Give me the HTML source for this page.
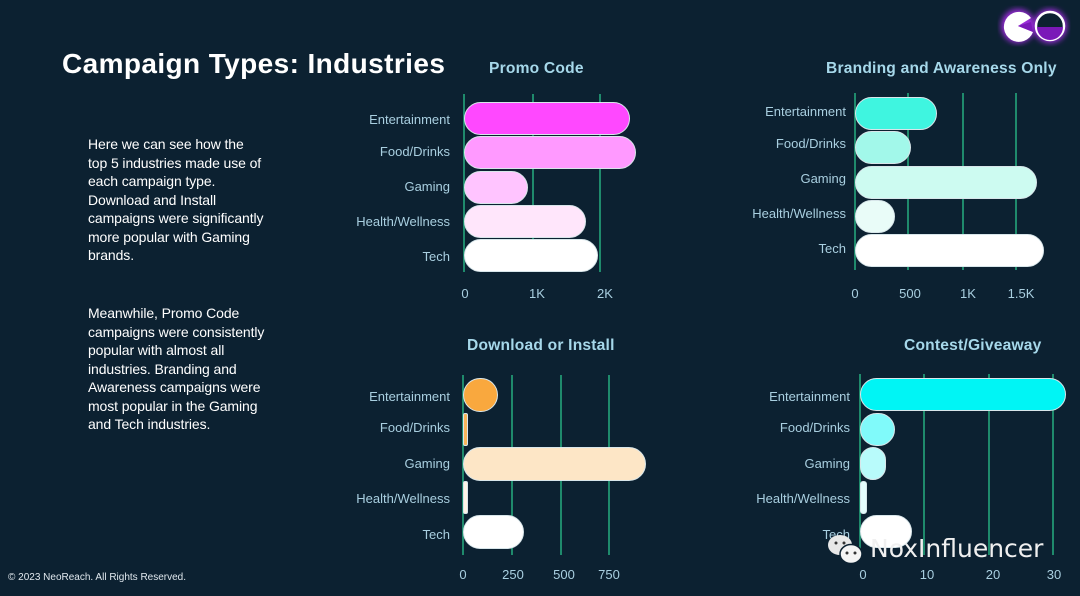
<!DOCTYPE html>
<html><head><meta charset="utf-8"><style>
*{margin:0;padding:0;box-sizing:border-box}
body{width:1080px;height:596px;background:#0c2131;position:relative;overflow:hidden;font-family:"Liberation Sans",sans-serif}
.a{position:absolute}
.t{position:absolute;font-weight:bold;color:#a6d8ea;font-size:15.6px;white-space:nowrap;letter-spacing:0.2px}
.l{position:absolute;color:#a9cfe0;font-size:13px;text-align:right;width:140px;white-space:nowrap}
.g{position:absolute;width:2px;background:#1f8a6c}
.b{position:absolute;border-radius:17px;border:1px solid #d8e6ea}
.k{position:absolute;color:#a9cfe0;font-size:13px;transform:translateX(-50%)}
p{position:absolute;left:88px;color:#fff;font-size:14px;line-height:18.5px;letter-spacing:-0.1px}
</style></head><body>
<div class="a" style="left:62px;top:48px;color:#fff;font-size:28px;font-weight:bold;letter-spacing:0.4px">Campaign Types: Industries</div>
<p style="top:135px">Here we can see how the<br>top 5 industries made use of<br>each campaign type.<br>Download and Install<br>campaigns were significantly<br>more popular with Gaming<br>brands.</p>
<p style="top:304px">Meanwhile, Promo Code<br>campaigns were consistently<br>popular with almost all<br>industries. Branding and<br>Awareness campaigns were<br>most popular in the Gaming<br>and Tech industries.</p>
<div class="a" style="left:8px;top:572px;color:#e0e8ee;font-size:10px">© 2023 NeoReach. All Rights Reserved.</div>

<!-- logo -->
<svg class="a" style="left:995px;top:2px" width="80" height="48">
<defs><filter id="gl"><feGaussianBlur stdDeviation="3"/></filter></defs>
<circle cx="23" cy="24" r="17" fill="#9a2bd8" filter="url(#gl)"/>
<circle cx="55" cy="24" r="17" fill="#9a2bd8" filter="url(#gl)"/>
<path d="M23 24 L38 30 A15 15 0 1 1 36 16 Z" fill="#fff"/>
<path d="M23 24 L38 30 L36 20 Z" fill="#7a18b8"/>
<circle cx="55" cy="24" r="14" fill="#0c2131" stroke="#fff" stroke-width="2.5"/>
<path d="M42 25 H68 A13 13 0 0 1 42 25 Z" fill="#7a18b8"/>
</svg>

<!-- Promo Code -->
<div class="t" style="left:489px;top:60px">Promo Code</div>
<div class="g" style="left:463px;top:94px;height:178px"></div>
<div class="g" style="left:532px;top:94px;height:178px"></div>
<div class="g" style="left:599px;top:94px;height:178px"></div>
<div class="b" style="left:464px;top:102px;width:166px;height:33px;background:#ff48ff"></div>
<div class="b" style="left:464px;top:136px;width:172px;height:33px;background:#ff99ff"></div>
<div class="b" style="left:464px;top:171px;width:64px;height:33px;background:#ffc4ff"></div>
<div class="b" style="left:464px;top:205px;width:122px;height:33px;background:#ffe6fb"></div>
<div class="b" style="left:464px;top:239px;width:134px;height:33px;background:#fff"></div>
<div class="l" style="left:310px;top:112px">Entertainment</div>
<div class="l" style="left:310px;top:144px">Food/Drinks</div>
<div class="l" style="left:310px;top:179px">Gaming</div>
<div class="l" style="left:310px;top:214px">Health/Wellness</div>
<div class="l" style="left:310px;top:249px">Tech</div>
<div class="k" style="left:465px;top:286px">0</div>
<div class="k" style="left:537px;top:286px">1K</div>
<div class="k" style="left:605px;top:286px">2K</div>

<!-- Branding -->
<div class="t" style="left:826px;top:60px">Branding and Awareness Only</div>
<div class="g" style="left:854px;top:93px;height:177px"></div>
<div class="g" style="left:907px;top:93px;height:177px"></div>
<div class="g" style="left:962px;top:93px;height:177px"></div>
<div class="g" style="left:1015px;top:93px;height:177px"></div>
<div class="b" style="left:855px;top:97px;width:82px;height:33px;background:#3ff5e0"></div>
<div class="b" style="left:855px;top:131px;width:56px;height:33px;background:#a2f8ea"></div>
<div class="b" style="left:855px;top:166px;width:182px;height:33px;background:#cdfbf1"></div>
<div class="b" style="left:855px;top:200px;width:40px;height:33px;background:#e9fcf8"></div>
<div class="b" style="left:855px;top:234px;width:189px;height:33px;background:#fff"></div>
<div class="l" style="left:706px;top:104px">Entertainment</div>
<div class="l" style="left:706px;top:136px">Food/Drinks</div>
<div class="l" style="left:706px;top:171px">Gaming</div>
<div class="l" style="left:706px;top:206px">Health/Wellness</div>
<div class="l" style="left:706px;top:241px">Tech</div>
<div class="k" style="left:855px;top:286px">0</div>
<div class="k" style="left:910px;top:286px">500</div>
<div class="k" style="left:968px;top:286px">1K</div>
<div class="k" style="left:1021px;top:286px">1.5K</div>

<!-- Download -->
<div class="t" style="left:467px;top:337px">Download or Install</div>
<div class="g" style="left:462px;top:375px;height:180px"></div>
<div class="g" style="left:511px;top:375px;height:180px"></div>
<div class="g" style="left:560px;top:375px;height:180px"></div>
<div class="g" style="left:608px;top:375px;height:180px"></div>
<div class="b" style="left:463px;top:378px;width:35px;height:34px;background:#f9a83e"></div>
<div class="b" style="left:463px;top:413px;width:5px;height:33px;background:#f8b45a;border-radius:2px"></div>
<div class="b" style="left:463px;top:447px;width:183px;height:34px;background:#fde6c6"></div>
<div class="b" style="left:463px;top:481px;width:5px;height:33px;background:#fff4e6;border-radius:2px"></div>
<div class="b" style="left:463px;top:515px;width:61px;height:34px;background:#fff"></div>
<div class="l" style="left:310px;top:389px">Entertainment</div>
<div class="l" style="left:310px;top:420px">Food/Drinks</div>
<div class="l" style="left:310px;top:456px">Gaming</div>
<div class="l" style="left:310px;top:491px">Health/Wellness</div>
<div class="l" style="left:310px;top:527px">Tech</div>
<div class="k" style="left:463px;top:567px">0</div>
<div class="k" style="left:513px;top:567px">250</div>
<div class="k" style="left:564px;top:567px">500</div>
<div class="k" style="left:609px;top:567px">750</div>

<!-- Contest -->
<div class="t" style="left:904px;top:337px">Contest/Giveaway</div>
<div class="g" style="left:859px;top:374px;height:181px"></div>
<div class="g" style="left:923px;top:374px;height:181px"></div>
<div class="g" style="left:988px;top:374px;height:181px"></div>
<div class="g" style="left:1052px;top:374px;height:181px"></div>
<div class="b" style="left:860px;top:378px;width:206px;height:33px;background:#00f5f5"></div>
<div class="b" style="left:860px;top:413px;width:35px;height:33px;background:#80fafa"></div>
<div class="b" style="left:860px;top:447px;width:26px;height:33px;background:#b8fbfb"></div>
<div class="b" style="left:860px;top:481px;width:7px;height:33px;background:#e4fdfd;border-radius:3px"></div>
<div class="b" style="left:860px;top:515px;width:52px;height:33px;background:#fff"></div>
<div class="l" style="left:710px;top:389px">Entertainment</div>
<div class="l" style="left:710px;top:420px">Food/Drinks</div>
<div class="l" style="left:710px;top:456px">Gaming</div>
<div class="l" style="left:710px;top:491px">Health/Wellness</div>
<div class="l" style="left:710px;top:527px">Tech</div>
<div class="k" style="left:863px;top:567px">0</div>
<div class="k" style="left:927px;top:567px">10</div>
<div class="k" style="left:993px;top:567px">20</div>
<div class="k" style="left:1054px;top:567px">30</div>

<!-- watermark -->
<svg class="a" style="left:826px;top:533px" width="40" height="34">
<ellipse cx="14" cy="12" rx="12" ry="10" fill="#e8e8e8"/>
<ellipse cx="25" cy="21" rx="11" ry="9.5" fill="#f4f4f4" stroke="#0c2131" stroke-width="1.5"/>
<circle cx="10" cy="10" r="1.5" fill="#333"/><circle cx="18" cy="10" r="1.5" fill="#333"/>
<circle cx="21" cy="20" r="1.5" fill="#333"/><circle cx="29" cy="20" r="1.5" fill="#333"/>
</svg>
<div class="a" style="left:870px;top:534px;color:#f0f0f0;font-size:25px;font-family:'DejaVu Sans',sans-serif">NoxInfluencer</div>
</body></html>
